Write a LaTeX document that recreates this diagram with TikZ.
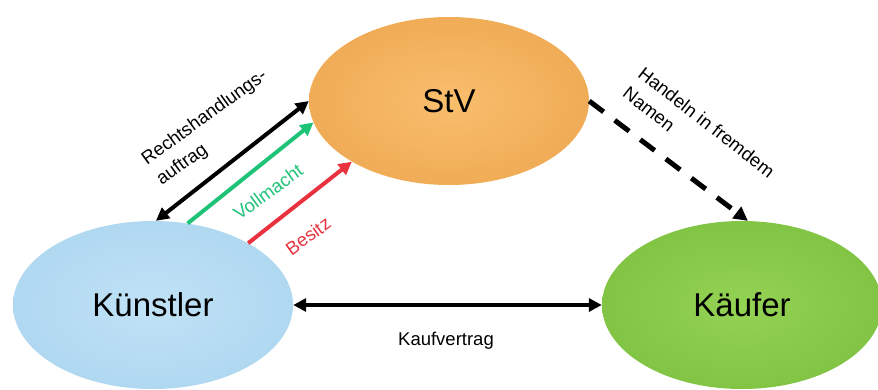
\documentclass[tikz,border=0pt]{standalone}
\usepackage{fontspec}
\setmainfont{Liberation Sans}
\usetikzlibrary{shapes.geometric,arrows.meta}
\definecolor{orA}{HTML}{F9BE6D}
\definecolor{orB}{HTML}{F0AC56}
\definecolor{blA}{HTML}{C0E2F6}
\definecolor{blB}{HTML}{B0D8F1}
\definecolor{grA}{HTML}{94D254}
\definecolor{grB}{HTML}{82C444}
\definecolor{vgreen}{HTML}{1EC378}
\definecolor{bred}{HTML}{E83240}
\tikzset{
  blob/.style={ellipse, minimum width=280pt, minimum height=168pt, inner sep=0pt,
    font=\fontsize{33}{40}\selectfont},
  lbl/.style={font=\fontsize{18.5}{25}\selectfont, inner sep=0pt},
  arr/.style={line width=4pt, -{Triangle[length=13pt,width=13pt]}},
  darr/.style={line width=4pt, {Triangle[length=13pt,width=13pt]}-{Triangle[length=13pt,width=13pt]}},
}
\begin{document}
\begin{tikzpicture}[x=1pt,y=-1pt]
\useasboundingbox (0,0) rectangle (878,389);
\node[blob, inner color=orA, outer color=orB] (stv) at (449,101) {StV};
\node[blob, inner color=blA, outer color=blB] (kue) at (153,305) {Künstler};
\node[blob, inner color=grA, outer color=grB] (kae) at (742,305) {Käufer};
% arrows
\draw[darr] (kue.88) -- (stv.180);
\draw[arr, draw=vgreen, fill=vgreen] (kue.67) -- (stv.189);
\draw[arr, draw=bred, fill=bred] (kue.33) -- (stv.212);
\draw[line width=5pt, dash pattern=on 18pt off 14pt, -{Triangle[length=14pt,width=14pt]}] (stv.0) -- (kae.86);
\draw[darr] (kue.east) -- (kae.west);
% labels
\node[lbl, rotate=36, align=left] (l1) at (212,128) {Rechtshandlungs-\\auftrag};
\node[lbl, rotate=36, text=vgreen] (l3) at (268,192) {Vollmacht};
\node[lbl, rotate=36, text=bred] (l4) at (308,236) {Besitz};
\node[lbl, rotate=-38, align=left] (l5) at (699,132) {Handeln in fremdem\\Namen};
\node[lbl] (l7) at (446,341) {Kaufvertrag};
\end{tikzpicture}
\end{document}
